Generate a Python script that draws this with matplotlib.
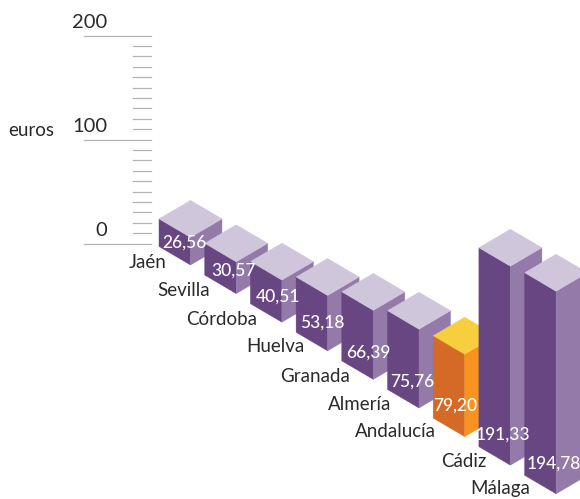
import matplotlib
matplotlib.use("Agg")
import matplotlib.pyplot as plt
from matplotlib.patches import Polygon

plt.rcParams['font.family'] = ['Lato', 'DejaVu Sans']

# datos
provincias = ['Jaén', 'Sevilla', 'Córdoba', 'Huelva', 'Granada', 'Almería', 'Andalucía', 'Cádiz', 'Málaga']
valores = [26.56, 30.57, 40.51, 53.18, 66.39, 75.76, 79.20, 191.33, 194.78]
ticks_mayores = [0, 100, 200]
ticks_menores = [10, 20, 30, 40, 50, 60, 70, 80, 90, 110, 120, 130, 140, 150, 160, 170, 180, 190]
destacada = 'Andalucía'

# escala isometrica en pixeles
PX_EURO = 1.04
Y_CERO = 243.6
MEDIO_ANCHO = 31.5
MEDIO_FONDO = 18.5
BASE_X = 190.5
BASE_Y = 265
PASO_X = 45.7
PASO_Y = 28.6

# ajustes de las etiquetas
fin_nombre = [167, 210, 257, 304, 350, 391, 436, 486, 530]
alto_nombre = [2, 3, 3, 4, 3, 4, 5, 4, 5]
alto_valor = [22, 23, 26, 28, 27, 26, 31, 31, 30]
dx_valor = [-6, -3, -4, -5, -5, -7, -10, -7, -2]

morado = ('#674682', '#937AA8', '#CFC6DC')
naranja = ('#D56A27', '#F7931E', '#F7CE3E')
gris_texto = '#2A2A2A'

fig = plt.figure(figsize=(5.8, 4.99), dpi=100)
ax = fig.add_axes([0, 0, 1, 1])
ax.set_xlim(0, 580)
ax.set_ylim(499, 0)
ax.axis('off')

# eje de euros
for t in ticks_mayores:
    y = Y_CERO - t * PX_EURO
    ax.plot([84, 151], [y, y], color='#B3B3B3', lw=0.9, zorder=1)
    ax.text(107.5, y - 13, str(t), ha='right', va='center', fontsize=14.5, color=gris_texto)
for t in ticks_menores:
    y = Y_CERO - t * PX_EURO
    ax.plot([133, 151], [y, y], color='#B3B3B3', lw=0.9, zorder=1)
ax.text(8, 130, 'euros', ha='left', va='center', fontsize=13.5, color=gris_texto)

# un prisma por provincia
for i, (nombre, v) in enumerate(zip(provincias, valores)):
    x = BASE_X + PASO_X * i
    y = BASE_Y + PASO_Y * i
    h = v * PX_EURO
    frente, lado, tapa = naranja if nombre == destacada else morado
    z = 2 + i
    ax.add_patch(Polygon([(x - MEDIO_ANCHO, y - MEDIO_FONDO), (x, y), (x, y - h), (x - MEDIO_ANCHO, y - MEDIO_FONDO - h)],
                         closed=True, fc=frente, ec=frente, lw=0.3, zorder=z))
    ax.add_patch(Polygon([(x + MEDIO_ANCHO, y - MEDIO_FONDO), (x, y), (x, y - h), (x + MEDIO_ANCHO, y - MEDIO_FONDO - h)],
                         closed=True, fc=lado, ec=lado, lw=0.3, zorder=z))
    ax.add_patch(Polygon([(x - MEDIO_ANCHO, y - MEDIO_FONDO - h), (x, y - h), (x + MEDIO_ANCHO, y - MEDIO_FONDO - h), (x, y - 2 * MEDIO_FONDO - h)],
                         closed=True, fc=tapa, ec=tapa, lw=0.3, zorder=z))
    ax.text(x + dx_valor[i], y - alto_valor[i], f'{v:.2f}'.replace('.', ','), ha='center', va='center',
            fontsize=12.5, color='white', fontweight='medium', zorder=20)
    ax.text(fin_nombre[i], y - alto_nombre[i], nombre, ha='right', va='center', fontsize=13.5,
            color=gris_texto, zorder=20)

fig.savefig('out.png', dpi=100)
